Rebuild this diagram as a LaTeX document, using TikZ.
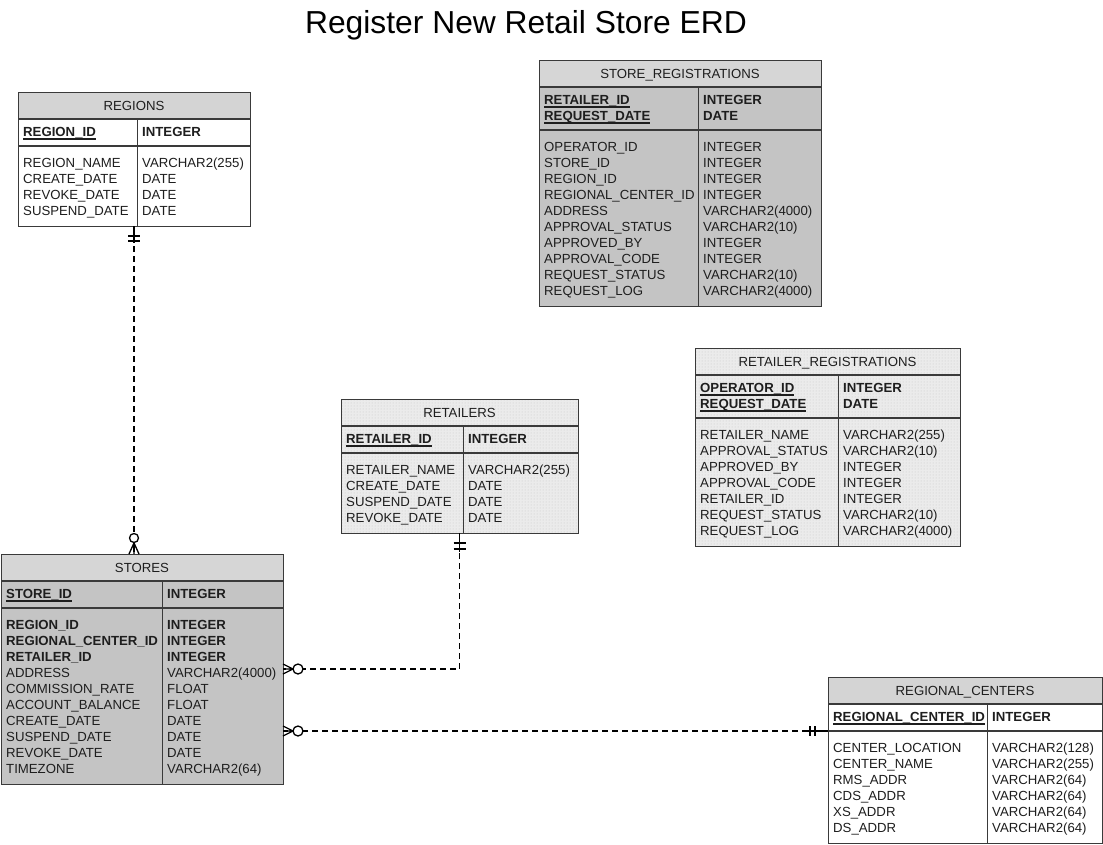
\documentclass[tikz,border=0pt]{standalone}
\usepackage{fontspec}
\setmainfont{Liberation Sans}
\usetikzlibrary{calc,patterns}
\newcommand\uln[1]{\setbox0\hbox{#1}\rlap{\rule[-2.8pt]{\wd0}{1.1pt}}\box0}
\definecolor{ln}{HTML}{3A3A3A}
\definecolor{hdrgray}{HTML}{D4D4D4}
\definecolor{darkhd}{HTML}{D6D6D6}
\definecolor{darkbd}{HTML}{C4C4C4}
\definecolor{lightbd}{HTML}{EBEBEB}
\definecolor{txtcol}{HTML}{1E1E1E}
\tikzset{
  x=1pt, y=-1pt,
  txt/.style={anchor=base west, inner sep=0pt, font=\fontsize{13.2}{16}\selectfont, text=txtcol},
  ttl/.style={anchor=base, inner sep=0pt, font=\fontsize{13.2}{16}\selectfont, text=txtcol},
  border/.style={draw=ln, line width=1pt},
  sepline/.style={draw=ln, line width=1.5pt},
  tbl/.style={draw=ln, line width=1pt, inner sep=0pt, outer sep=0pt},
  plainhead/.style={fill=hdrgray},
  plainbody/.style={fill=white},
  darkhead/.style={fill=darkhd},
  darkbody/.style={fill=darkbd},
  dothead/.style={fill=lightbd, postaction={pattern=dots, pattern color=black!22}},
  dotbody/.style={fill=lightbd, postaction={pattern=dots, pattern color=black!22}},
  rel/.style={draw=black, line width=1.3pt, dash pattern=on 6pt off 4pt},
  relsolid/.style={draw=black, line width=1.3pt},
}
% #1 name, #2 left, #3 top, #4 divider, #5 right, #6 n pk, #7 n attrs, #8 style prefix, #9 title
\newcommand\tablebox[9]{%
  \pgfmathsetmacro\hb{#3+27}%
  \pgfmathsetmacro\pb{\hb+16*#6+11}%
  \pgfmathsetmacro\bb{\pb+16*#7+16}%
  \fill[#8body] (#2,\hb) rectangle (#5,\bb);
  \fill[#8head] (#2,#3) rectangle (#5,\hb);
  \draw[sepline] (#2,\hb) -- (#5,\hb);
  \draw[sepline] (#2,\pb) -- (#5,\pb);
  \draw[border] (#4,\hb) -- (#4,\bb);
  \node[tbl, minimum width=#5-#2, minimum height=\bb-#3, anchor=north west] (#1) at (#2,#3) {};
  \coordinate (#1-pk) at (#2,\pb);
  \node[ttl] (#1-title) at ({(#2+#5)/2},#3+18.2) {#9};
}
% #1 prefix, #2 x of names, #3 x of types, #4 first baseline, #5 list
\newcommand\rows[5]{%
  \foreach \nm/\ty [count=\i] in {#5}{
    \node[txt] (#1-n\i) at (#2, #4+16*\i-16) {\nm};
    \node[txt] (#1-t\i) at (#3, #4+16*\i-16) {\ty};
  }%
}
\begin{document}
\begin{tikzpicture}
\useasboundingbox (0,0) rectangle (1103,844);
\fill[white] (0,0) rectangle (1103,844);

\node[anchor=base, inner sep=0pt, font=\fontsize{31.8}{36}\selectfont, text=black] (title) at (526,33) {Register New Retail Store ERD};

% REGIONS
\tablebox{regions}{18}{92}{137}{250}{1}{4}{plain}{REGIONS}
\rows{regions-pk}{23}{142}{\hb+17.7}{\textbf{\uln{REGION\_ID}}/\textbf{INTEGER}}
\rows{regions-at}{23}{142}{\pb+21.7}{REGION\_NAME/VARCHAR2(255), CREATE\_DATE/DATE, REVOKE\_DATE/DATE, SUSPEND\_DATE/DATE}

% STORE_REGISTRATIONS
\tablebox{storereg}{539}{60}{698}{821}{2}{10}{dark}{STORE\_REGISTRATIONS}
\rows{storereg-pk}{544}{703}{\hb+17.7}{\textbf{\uln{RETAILER\_ID}}/\textbf{INTEGER}, \textbf{\uln{REQUEST\_DATE}}/\textbf{DATE}}
\rows{storereg-at}{544}{703}{\pb+21.7}{OPERATOR\_ID/INTEGER, STORE\_ID/INTEGER, REGION\_ID/INTEGER, REGIONAL\_CENTER\_ID/INTEGER, ADDRESS/VARCHAR2(4000), APPROVAL\_STATUS/VARCHAR2(10), APPROVED\_BY/INTEGER, APPROVAL\_CODE/INTEGER, REQUEST\_STATUS/VARCHAR2(10), REQUEST\_LOG/VARCHAR2(4000)}

% RETAILERS
\tablebox{retailers}{341}{399}{463}{578}{1}{4}{dot}{RETAILERS}
\rows{retailers-pk}{346}{468}{\hb+17.7}{\textbf{\uln{RETAILER\_ID}}/\textbf{INTEGER}}
\rows{retailers-at}{346}{468}{\pb+21.7}{RETAILER\_NAME/VARCHAR2(255), CREATE\_DATE/DATE, SUSPEND\_DATE/DATE, REVOKE\_DATE/DATE}

% RETAILER_REGISTRATIONS
\tablebox{retreg}{695}{348}{838}{960}{2}{7}{dot}{RETAILER\_REGISTRATIONS}
\rows{retreg-pk}{700}{843}{\hb+17.7}{\textbf{\uln{OPERATOR\_ID}}/\textbf{INTEGER}, \textbf{\uln{REQUEST\_DATE}}/\textbf{DATE}}
\rows{retreg-at}{700}{843}{\pb+21.7}{RETAILER\_NAME/VARCHAR2(255), APPROVAL\_STATUS/VARCHAR2(10), APPROVED\_BY/INTEGER, APPROVAL\_CODE/INTEGER, RETAILER\_ID/INTEGER, REQUEST\_STATUS/VARCHAR2(10), REQUEST\_LOG/VARCHAR2(4000)}

% STORES
\tablebox{stores}{1}{554}{162}{283}{1}{10}{dark}{STORES}
\rows{stores-pk}{6}{167}{\hb+17.7}{\textbf{\uln{STORE\_ID}}/\textbf{INTEGER}}
\rows{stores-at}{6}{167}{\pb+21.7}{\textbf{REGION\_ID}/\textbf{INTEGER}, \textbf{REGIONAL\_CENTER\_ID}/\textbf{INTEGER}, \textbf{RETAILER\_ID}/\textbf{INTEGER}, ADDRESS/VARCHAR2(4000), COMMISSION\_RATE/FLOAT, ACCOUNT\_BALANCE/FLOAT, CREATE\_DATE/DATE, SUSPEND\_DATE/DATE, REVOKE\_DATE/DATE, TIMEZONE/VARCHAR2(64)}

% REGIONAL_CENTERS
\tablebox{regcent}{828}{677}{987}{1102}{1}{6}{plain}{REGIONAL\_CENTERS}
\rows{regcent-pk}{833}{992}{\hb+17.7}{\textbf{\uln{REGIONAL\_CENTER\_ID}}/\textbf{INTEGER}}
\rows{regcent-at}{833}{992}{\pb+21.7}{CENTER\_LOCATION/VARCHAR2(128), CENTER\_NAME/VARCHAR2(255), RMS\_ADDR/VARCHAR2(64), CDS\_ADDR/VARCHAR2(64), XS\_ADDR/VARCHAR2(64), DS\_ADDR/VARCHAR2(64)}

% ---- REGIONS -> STORES
\draw[rel] (regions.south) -- (regions.south |- stores.north);
\coordinate (c1e) at (regions.south |- stores.north);
\draw[relsolid] (regions.south) -- ++(0,17);
\draw[relsolid] ($(regions.south)+(-6,10)$) -- ++(12,0);
\draw[relsolid] ($(regions.south)+(-6,15)$) -- ++(12,0);
\draw[relsolid] ($(c1e)+(0,-11)$) -- ($(c1e)+(-5,0)$)
                ($(c1e)+(0,-11)$) -- (c1e)
                ($(c1e)+(0,-11)$) -- ($(c1e)+(5,0)$);
\draw[relsolid, fill=white] ($(c1e)+(0,-16)$) circle[radius=4.5pt];

% ---- RETAILERS -> STORES
\draw[rel] (retailers.south) |- (stores.east);
\draw[relsolid] (retailers.south) -- ++(0,19);
\draw[relsolid] ($(retailers.south)+(-6,10)$) -- ++(12,0);
\draw[relsolid] ($(retailers.south)+(-6,16)$) -- ++(12,0);
\draw[relsolid] ($(stores.east)+(10,0)$) -- ($(stores.east)+(0,-5)$)
                ($(stores.east)+(10,0)$) -- (stores.east)
                ($(stores.east)+(10,0)$) -- ($(stores.east)+(0,5)$);
\draw[relsolid, fill=white] ($(stores.east)+(15,0)$) circle[radius=5pt];

% ---- REGIONAL_CENTERS -> STORES
\coordinate (c3e) at (regcent-pk -| stores.east);
\draw[rel] (regcent-pk) -- (c3e);
\draw[relsolid] (regcent-pk) -- ++(-22,0);
\draw[relsolid] ($(regcent-pk)+(-13,-5)$) -- ++(0,10);
\draw[relsolid] ($(regcent-pk)+(-18,-5)$) -- ++(0,10);
\draw[relsolid] ($(c3e)+(10,0)$) -- ($(c3e)+(0,-5)$)
                ($(c3e)+(10,0)$) -- (c3e)
                ($(c3e)+(10,0)$) -- ($(c3e)+(0,5)$);
\draw[relsolid, fill=white] ($(c3e)+(15,0)$) circle[radius=5pt];
\end{tikzpicture}
\end{document}
